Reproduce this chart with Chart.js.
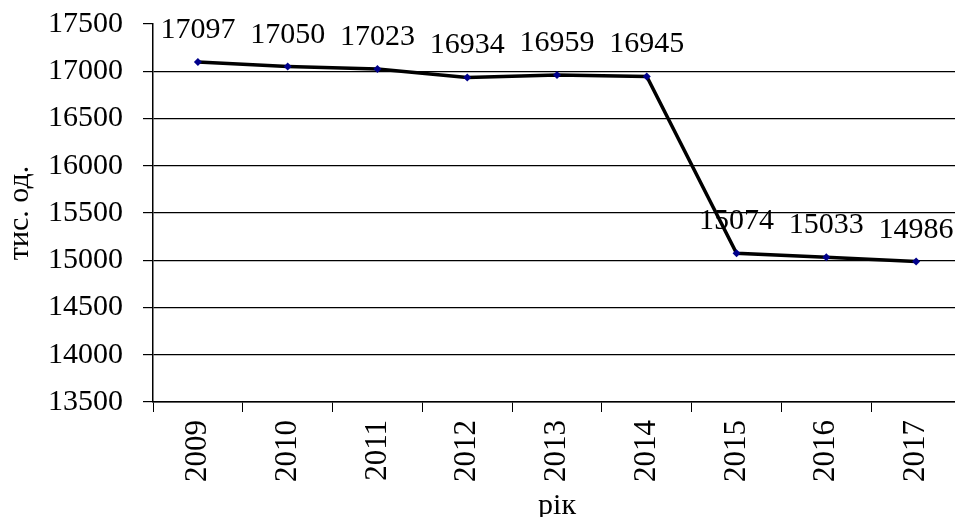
<!DOCTYPE html>
<html>
<head>
<meta charset="utf-8">
<script src="https://cdn.jsdelivr.net/npm/chart.js@4/dist/chart.umd.min.js"></script>
<style>
  html, body { margin: 0; padding: 0; background: #fff; overflow: hidden; }
  #wrap { width: 955px; height: 517px; overflow: hidden; }
</style>
</head>
<body>
<div id="wrap"><canvas id="myChart" width="965" height="517"></canvas></div>
<script>
const years = ["2009", "2010", "2011", "2012", "2013", "2014", "2015", "2016", "2017"];
const units = [17097, 17050, 17023, 16934, 16959, 16945, 15074, 15033, 14986];
const yMin = 13500;
const yMax = 17500;
const yStep = 500;

const serif = "'Liberation Serif', 'Times New Roman', serif";

// value labels above each point
const pointLabels = {
  id: "pointLabels",
  afterDatasetsDraw(chart) {
    const ctx = chart.ctx;
    const meta = chart.getDatasetMeta(0);
    ctx.save();
    ctx.font = "30px " + serif;
    ctx.fillStyle = "#000";
    ctx.textAlign = "center";
    ctx.textBaseline = "alphabetic";
    meta.data.forEach((pt, i) => {
      ctx.fillText(String(units[i]), pt.x, pt.y - 24);
    });
    ctx.restore();
  },
};

const myChartUi = document.querySelector("#myChart");
const chart = new Chart(myChartUi, {
  type: "line",
  data: {
    labels: years,
    datasets: [
      {
        data: units,
        borderColor: "#000",
        borderWidth: 3.5,
        tension: 0,
        pointStyle: "rectRot",
        pointRadius: 4,
        pointBackgroundColor: "#00008b",
        pointBorderColor: "#00008b",
        pointBorderWidth: 0,
      },
    ],
  },
  options: {
    responsive: false,
    animation: false,
    layout: { padding: { top: 24, right: 2, left: 0, bottom: 0 } },
    plugins: {
      legend: { display: false },
      tooltip: { enabled: false },
    },
    scales: {
      x: {
        offset: true,
        grid: {
          offset: true,
          drawOnChartArea: false,
          drawTicks: true,
          tickLength: 10,
          tickColor: "#000",
          tickWidth: 1,
        },
        border: { display: true, color: "#000", width: 1.5 },
        ticks: {
          color: "#000",
          font: { family: serif, size: 31 },
          minRotation: 90,
          maxRotation: 90,
          padding: 8,
          autoSkip: false,
        },
        title: {
          display: true,
          text: "рік",
          color: "#000",
          font: { family: serif, size: 30, lineHeight: 0.7 },
          padding: { top: 0, bottom: 0 },
        },
        afterFit(scale) {
          scale.height = 115;
          scale.paddingLeft = 0;
          scale.paddingRight = 0;
        },
      },
      y: {
        min: yMin,
        max: yMax,
        grid: {
          color: (c) => (c.tick && c.tick.value === yMax ? "rgba(0,0,0,0)" : "#000"),
          lineWidth: 1.2,
          tickColor: "#000",
          tickLength: 10,
        },
        border: { display: true, color: "#000", width: 1.5 },
        ticks: {
          stepSize: yStep,
          color: "#000",
          font: { family: serif, size: 30 },
          padding: 20,
          callback: (v) => String(v),
        },
        title: {
          display: true,
          text: "тис. од.",
          color: "#000",
          font: { family: serif, size: 30 },
          padding: { top: 2, bottom: 0 },
        },
        afterFit(scale) {
          scale.width = 153;
          scale.paddingTop = 0;
          scale.paddingBottom = 0;
        },
      },
    },
  },
  plugins: [pointLabels],
});
</script>
</body>
</html>
